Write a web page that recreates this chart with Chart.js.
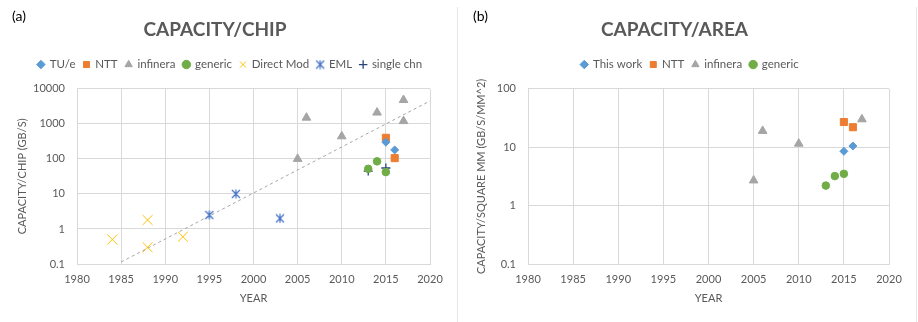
<!DOCTYPE html>
<html>
<head>
<meta charset="utf-8">
<script src="https://cdn.jsdelivr.net/npm/chart.js@4"></script>
<style>
  body { margin: 0; background: #fff; width: 918px; height: 322px; position: relative; overflow: hidden; font-family: Lato, sans-serif; }
  .panel { position: absolute; top: 0; width: 456px; height: 322px; }
  #panelA { left: 0; }
  #panelB { left: 460px; }
  .tag { position: absolute; top: 7px; font-size: 14px; color: #000; }
  .sep { position: absolute; top: 7px; bottom: 0; width: 1px; background: #e6e6e6; }
</style>
</head>
<body>
<div class="panel" id="panelA"><canvas id="chipChart" width="456" height="322"></canvas></div>
<div class="panel" id="panelB"><canvas id="areaChart" width="456" height="322"></canvas></div>
<div class="tag" style="left:12px">(a)</div>
<div class="tag" style="left:473px">(b)</div>
<div class="sep" style="left:457px"></div>
<div class="sep" style="left:916px"></div>
<script>
// ejes
const yearTicks = [1980, 1985, 1990, 1995, 2000, 2005, 2010, 2015, 2020];
const chipTicks = [0.1, 1, 10, 100, 1000, 10000];
const areaTicks = [0.1, 1, 10, 100];

// capacidad por chip (Gb/s)
const tueYears = [2015, 2016];
const tueChip = [300, 180];
const nttYears = [2015, 2016];
const nttChip = [400, 105];
const infYears = [2005, 2006, 2010, 2014, 2017, 2017];
const infChip = [100, 1500, 440, 2100, 4800, 1200];
const genYears = [2013, 2014, 2015];
const genChip = [52, 85, 42];
const dmYears = [1984, 1988, 1988, 1992];
const dmChip = [0.5, 1.8, 0.3, 0.6];
const emlYears = [1995, 1998, 2003];
const emlChip = [2.5, 10, 2];
const chnYears = [2013, 2015];
const chnChip = [45, 55];
const trendYears = [1985, 2020];
const trendChip = [0.114, 4500];

// capacidad por area (Gb/s/mm^2)
const workYears = [2015, 2016];
const workArea = [8.5, 10.5];
const nttAreaYears = [2015, 2016];
const nttArea = [27, 22];
const infAreaYears = [2005, 2006, 2010, 2017];
const infArea = [2.7, 19, 11.5, 30];
const genAreaYears = [2013, 2014, 2015];
const genArea = [2.2, 3.2, 3.5];

const gridColor = '#d9d9d9';
const textColor = '#595959';

Chart.defaults.font.family = 'Lato, sans-serif';

function pts(xs, ys) {
    return xs.map((x, i) => ({ x: x, y: ys[i] }));
}

// marcador EML: aspa con barra vertical
function emlMarker(size) {
    const c = document.createElement('canvas');
    c.width = size;
    c.height = size;
    const g = c.getContext('2d');
    g.strokeStyle = '#4472c4';
    g.lineWidth = 1.2;
    g.beginPath();
    g.moveTo(1, 1); g.lineTo(size - 1, size - 1);
    g.moveTo(size - 1, 1); g.lineTo(1, size - 1);
    g.moveTo(size / 2, 0.5); g.lineTo(size / 2, size - 0.5);
    g.stroke();
    return c;
}

function serie(label, xs, ys, color, style, radius, extra) {
    return Object.assign({
        label: label,
        data: pts(xs, ys),
        pointStyle: style,
        pointRadius: radius,
        backgroundColor: color,
        borderColor: color,
        borderWidth: 1,
        showLine: false
    }, extra || {});
}

// separa la leyenda del area del grafico y la centra en el lienzo
const legendGap = {
    id: 'legendGap',
    beforeInit(chart) {
        const fit = chart.legend.fit;
        chart.legend.fit = function () {
            fit.call(this);
            this.height += 8.5;
        };
    },
    afterLayout(chart) {
        const desplazo = chart.options.layout.padding.right / 2 + 2;
        chart.legend.left += desplazo;
        chart.legend.right += desplazo;
    }
};

function opciones(titulo, yTitulo, yTicks, anchoEje, padDerecha, padTitulo) {
    return {
        responsive: false,
        animation: false,
        layout: { padding: { left: 0, right: padDerecha, top: 0, bottom: 10 } },
        plugins: {
            title: {
                display: true,
                text: titulo,
                color: textColor,
                font: { size: 19, weight: 'bold' },
                padding: { top: 18, bottom: 10 }
            },
            legend: {
                position: 'top',
                labels: {
                    usePointStyle: true,
                    boxWidth: 6,
                    boxHeight: 6,
                    padding: 8,
                    color: textColor,
                    font: { size: 11.5 },
                    filter: (item, data) => !data.datasets[item.datasetIndex].tendencia
                }
            },
            tooltip: { enabled: false }
        },
        scales: {
            x: {
                type: 'linear',
                min: yearTicks[0],
                max: yearTicks[yearTicks.length - 1],
                afterBuildTicks: s => { s.ticks = yearTicks.map(v => ({ value: v })); },
                afterFit: s => { s.height = 48; },
                grid: { color: gridColor, drawTicks: false },
                border: { color: gridColor },
                ticks: { padding: 9, color: textColor, font: { size: 11 }, maxRotation: 0, autoSkip: false, callback: v => String(v) },
                title: { display: true, text: 'YEAR', color: textColor, font: { size: 11 }, padding: { top: 0, bottom: 7 } }
            },
            y: {
                type: 'logarithmic',
                min: yTicks[0],
                max: yTicks[yTicks.length - 1],
                afterBuildTicks: s => { s.ticks = yTicks.map(v => ({ value: v })); },
                afterFit: s => { s.width = anchoEje; },
                grid: { color: gridColor, drawTicks: false },
                border: { color: gridColor },
                ticks: { padding: 12, color: textColor, font: { size: 11 }, callback: v => String(v) },
                title: { display: true, text: yTitulo, color: textColor, font: { size: 11 }, padding: { top: padTitulo, bottom: 0 } }
            }
        }
    };
}

new Chart(document.getElementById('chipChart'), {
    type: 'scatter',
    data: {
        datasets: [
            serie('TU/e', tueYears, tueChip, '#5b9bd5', 'rectRot', 4),
            serie('NTT', nttYears, nttChip, '#ed7d31', 'rect', 5),
            serie('infinera', infYears, infChip, '#a5a5a5', 'triangle', 5),
            serie('generic', genYears, genChip, '#70ad47', 'circle', 3.8),
            serie('Direct Mod', dmYears, dmChip, '#ffc000', 'crossRot', 7),
            serie('EML', emlYears, emlChip, '#4472c4', emlMarker(10), 5),
            serie('single chn', chnYears, chnChip, '#264478', 'cross', 4.5, { borderWidth: 1.3 }),
            serie('', trendYears, trendChip, '#a6a6a6', 'circle', 0, {
                showLine: true,
                borderDash: [3, 3],
                tendencia: true
            })
        ]
    },
    options: opciones('CAPACITY/CHIP', 'CAPACITY/CHIP (GB/S)', chipTicks, 77, 26, 16),
    plugins: [legendGap]
});

new Chart(document.getElementById('areaChart'), {
    type: 'scatter',
    data: {
        datasets: [
            serie('This work', workYears, workArea, '#5b9bd5', 'rectRot', 4),
            serie('NTT', nttAreaYears, nttArea, '#ed7d31', 'rect', 5),
            serie('infinera', infAreaYears, infArea, '#a5a5a5', 'triangle', 5),
            serie('generic', genAreaYears, genArea, '#70ad47', 'circle', 3.8)
        ]
    },
    options: opciones('CAPACITY/AREA', 'CAPACITY/SQUARE MM (GB/S/MM^2)', areaTicks, 68, 27, 15),
    plugins: [legendGap]
});
</script>
</body>
</html>
